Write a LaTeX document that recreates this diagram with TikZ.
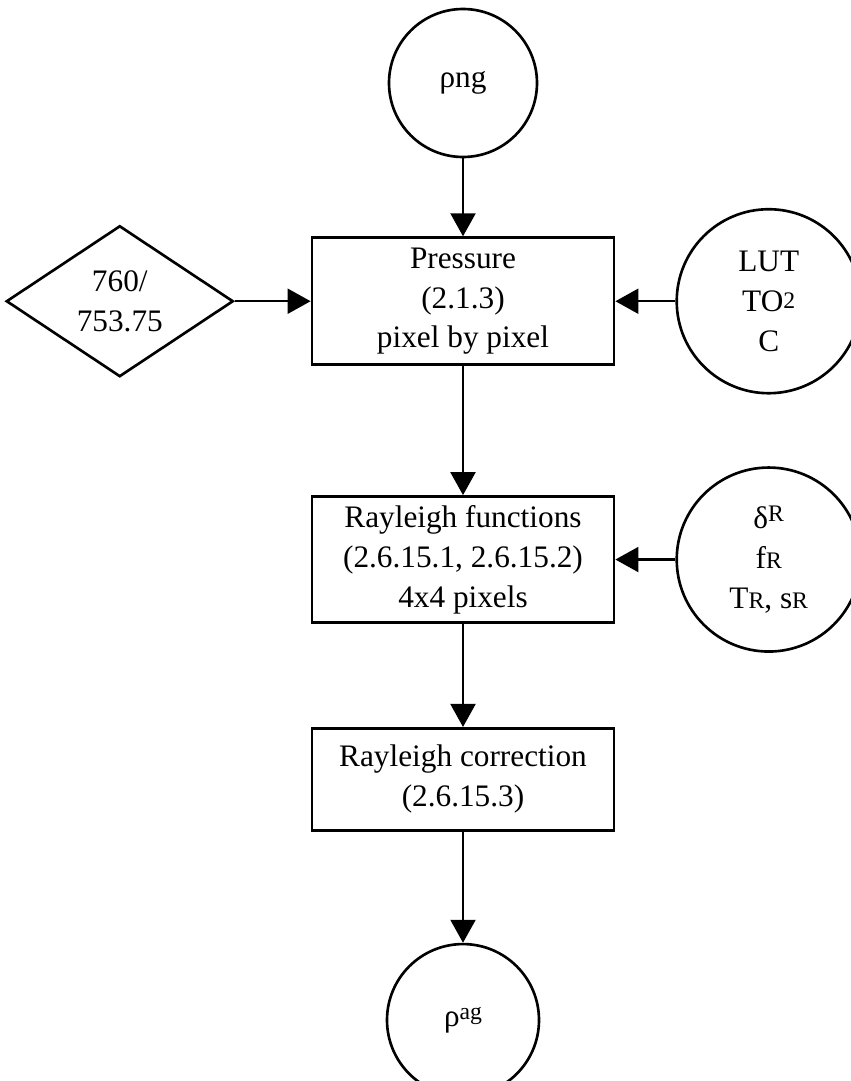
\documentclass[tikz,border=0pt]{standalone}
\usepackage{fontspec}
\setmainfont{Liberation Serif}
\usepackage{tikz}
\usetikzlibrary{shapes.geometric, arrows.meta, positioning}

\newcommand{\lowsm}[1]{{\fontsize{13.5}{13.5}\selectfont #1}}
\newcommand{\upsm}[1]{\raisebox{4pt}{\fontsize{13.5}{13.5}\selectfont #1}}

\begin{document}
\begin{tikzpicture}[node distance=1.5cm, >={Triangle[length=0.46cm, width=0.5cm]}, line width=1.2pt, font=\fontsize{17.8}{22.7}\selectfont]
    \tikzstyle{proc} = [rectangle, draw=black, line width=1.6pt, minimum width=6.04cm, align=center, inner sep=0pt]
    \tikzstyle{term} = [circle, draw=black, line width=1.5pt, align=center, inner sep=0pt]
    \tikzstyle{param} = [diamond, draw=black, line width=1.5pt, align=center, minimum width=4.54cm, minimum height=3.02cm, inner sep=0pt]

    \useasboundingbox (0,0) rectangle (17,-21.62);

    \node (png) [term, minimum size=2.96cm] at (9.26,-1.66) {ρng};
    \node (press) [proc, minimum height=2.54cm, below=1.56cm of png] {Pressure\\(2.1.3)\\pixel by pixel};
    \node (pres) [param, left=1.52cm of press] {760/\\753.75};
    \node (lut) [term, minimum size=3.68cm, right=1.2cm of press] {LUT\\TO\raisebox{1.5pt}{\lowsm{2}}\\C};
    \node (rfun) [proc, minimum height=2.52cm, below=2.58cm of press] {Rayleigh functions\\(2.6.15.1, 2.6.15.2)\\4x4 pixels};
    \node (rpar) [term, minimum size=3.68cm, right=1.2cm of rfun] {δ\upsm{R}\\f\lowsm{R}\\T\lowsm{R}, s\lowsm{R}};
    \node (rcor) [proc, minimum height=2.04cm, below=2.06cm of rfun] {Rayleigh correction\\(2.6.15.3)};
    \node (pag) [term, minimum size=3.04cm, below=2.22cm of rcor] {ρ\upsm{ag}};

    % vertical chain
    \draw[->] (png) -- (press);
    \draw[->] (press) -- (rfun);
    \draw[->] (rfun) -- (rcor);
    \draw[->] (rcor) -- (pag);

    % side inputs
    \draw[->] (pres) -- (press);
    \draw[->] (lut) -- (press);
    \draw[->] (rpar) -- (rfun);
\end{tikzpicture}
\end{document}
